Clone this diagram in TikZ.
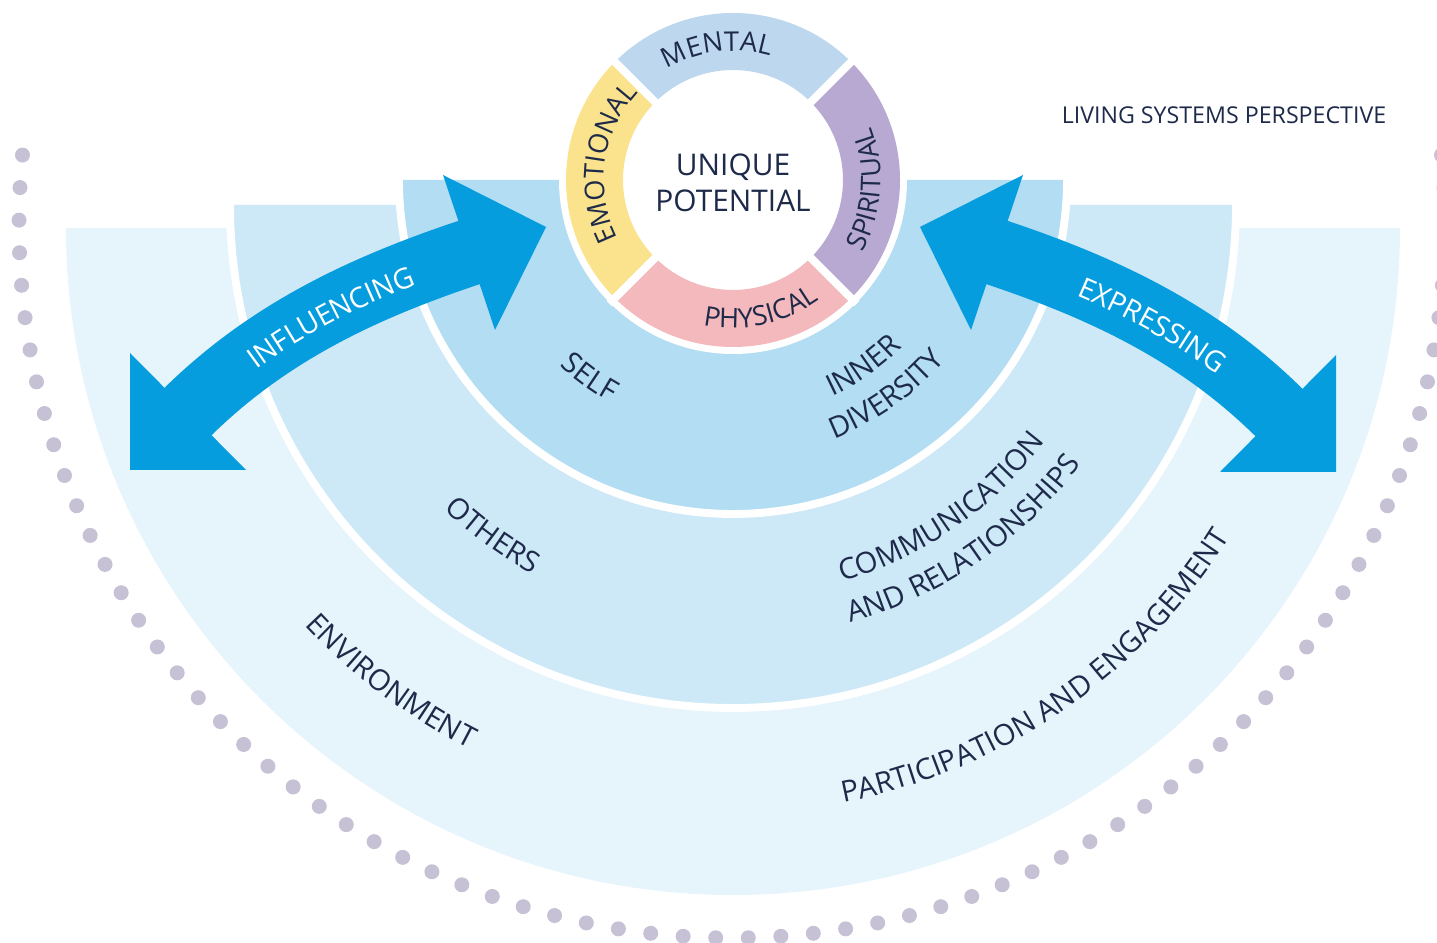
\documentclass[tikz,border=0pt]{standalone}
\usepackage{fontspec}
\setmainfont{Open Sans}
\usetikzlibrary{decorations.text}

\definecolor{outerband}{HTML}{E6F4FC}
\definecolor{midband}{HTML}{CDE9F7}
\definecolor{innerband}{HTML}{B2DDF3}
\definecolor{arrowblue}{HTML}{059DDE}
\definecolor{navy}{HTML}{1E2A4A}
\definecolor{dotgrey}{HTML}{C6C1D5}
\definecolor{mentalc}{HTML}{BDD7EE}
\definecolor{spiritc}{HTML}{B8A9D3}
\definecolor{emotec}{HTML}{FBE38D}
\definecolor{physc}{HTML}{F4B9BC}

\newcommand\bandfont{\fontsize{16.6}{16.6}\selectfont\color{navy}}
\newcommand\ringfont{\fontsize{15.5}{15.5}\selectfont\color{navy}}
\newcommand\arrowfont{\fontsize{16.2}{16.2}\selectfont\color{white}}

\tikzset{
  bandline/.style={draw=white, line width=4.5pt},
  shaft/.style={draw=arrowblue, line width=38pt},
  head/.style={fill=arrowblue},
  gap/.style={draw=white, line width=4.5pt},
  dot/.style={fill=dotgrey},
  curvedlabel/.style={decorate, decoration={text along path, text align=center, text={#1}}},
  arrowlabel/.style 2 args={decorate, decoration={text along path, text align={center, left indent=#1}, raise=-7pt, text={#2}}},
}

\begin{document}
\begin{tikzpicture}[x=0.02cm, y=0.02cm]
  \useasboundingbox (0,0) rectangle (1437,943);
  \clip (0,0) rectangle (1437,943);

  %% bands
  \fill[outerband] (66,715) -- (1400,715) arc[start angle=0, end angle=-180, radius=667] -- cycle;
  \fill[midband] (233,738) -- (1233,738) arc[start angle=0, end angle=-180, radius=500] -- cycle;
  \draw[bandline] (1236,738) arc[start angle=0, end angle=-180, radius=503];
  \fill[innerband] (402,763) -- (1064,763) arc[start angle=0, end angle=-180, radius=331] -- cycle;
  \draw[bandline] (1067,763) arc[start angle=0, end angle=-180, radius=334];

  %% dots
  \foreach \k in {0,...,36}{
    \fill[dot] (732,718) ++(268.69-2.62*\k:713) circle[radius=7.5];
    \fill[dot] (732,718) ++(271.31+2.62*\k:713) circle[radius=7.5];
  }

  %% influencing arrow
  \coordinate (inA) at (184,527.5);
  \coordinate (inB) at (473,691.8);
  \draw[shaft] (inA) .. controls (266,609.5) and (361.7,655) .. (inB);
  \fill[head] (130,473) -- (130,590) -- (246,473) -- cycle;
  \fill[head] (546,716) -- (443,768) -- (495,613) -- cycle;
  \path[arrowlabel={12pt}{|\arrowfont|INFLUENCING}] (inA) .. controls (266,609.5) and (361.7,655) .. (inB);

  %% expressing arrow
  \coordinate (exA) at (993,691.8);
  \coordinate (exB) at (1282,527.5);
  \draw[shaft] (exA) .. controls (1104.3,655) and (1200,609.5) .. (exB);
  \fill[head] (920,716) -- (1023,768) -- (971,613) -- cycle;
  \fill[head] (1336,471) -- (1336,588) -- (1220,471) -- cycle;
  \path[arrowlabel={10pt}{|\arrowfont|EXPRESSING}] (exA) .. controls (1104.3,655) and (1200,609.5) .. (exB);

  %% ring
  \coordinate (core) at (733,763);
  \fill[white] (core) circle[radius=174];
  \fill[mentalc] ([shift={(45:167)}]core) arc[start angle=45, end angle=135, radius=167]
     -- ([shift={(135:110)}]core) arc[start angle=135, end angle=45, radius=110] -- cycle;
  \fill[emotec] ([shift={(135:167)}]core) arc[start angle=135, end angle=225, radius=167]
     -- ([shift={(225:110)}]core) arc[start angle=225, end angle=135, radius=110] -- cycle;
  \fill[physc] ([shift={(225:167)}]core) arc[start angle=225, end angle=315, radius=167]
     -- ([shift={(315:110)}]core) arc[start angle=315, end angle=225, radius=110] -- cycle;
  \fill[spiritc] ([shift={(-45:167)}]core) arc[start angle=-45, end angle=45, radius=167]
     -- ([shift={(45:110)}]core) arc[start angle=45, end angle=-45, radius=110] -- cycle;
  \foreach \a in {45,135,225,315}
    \draw[gap] ([shift={(\a:100)}]core) -- ([shift={(\a:175)}]core);

  \node[align=center, font=\fontsize{17}{20.5}\selectfont, text=navy] (potential) at (733,760) {UNIQUE\\POTENTIAL};

  %% ring labels
  \path[curvedlabel={|\ringfont|MENTAL}] ([shift={(137:129)}]core) arc[start angle=137, end angle=57, radius=129];
  \path[curvedlabel={|\ringfont|EMOTIONAL}] ([shift={(215:129)}]core) arc[start angle=215, end angle=129, radius=129];
  \path[curvedlabel={|\ringfont|SPIRITUAL}] ([shift={(-46:148)}]core) arc[start angle=-46, end angle=38, radius=148];
  \path[curvedlabel={|\ringfont|PHYSICAL}] ([shift={(242:148)}]core) arc[start angle=242, end angle=322, radius=148];

  %% band labels
  \path[curvedlabel={|\bandfont|SELF}] ([shift={(214:254)}]core) arc[start angle=214, end angle=254, radius=254];
  \path[curvedlabel={|\bandfont|INNER}] ([shift={(-80:238)}]core) arc[start angle=-80, end angle=-30, radius=238];
  \path[curvedlabel={|\bandfont|DIVERSITY}] ([shift={(-80:278)}]core) arc[start angle=-80, end angle=-29, radius=278];
  \path[curvedlabel={|\bandfont|OTHERS}] ([shift={(214:420)}]733,738) arc[start angle=214, end angle=254, radius=420];
  \path[curvedlabel={|\bandfont|COMMUNICATION}] ([shift={(-81:392)}]733,738) arc[start angle=-81, end angle=-30, radius=392];
  \path[curvedlabel={|\bandfont|AND RELATIONSHIPS}] ([shift={(-81:434)}]733,738) arc[start angle=-81, end angle=-30, radius=434];
  \path[curvedlabel={|\bandfont|ENVIRONMENT}] ([shift={(213:584)}]733,715) arc[start angle=213, end angle=253, radius=584];
  \path[curvedlabel={|\bandfont|PARTICIPATION AND ENGAGEMENT}] ([shift={(-86:585)}]733,715) arc[start angle=-86, end angle=-25, radius=585];

  \node[font=\fontsize{13.2}{14}\selectfont, text=navy] (perspective) at (1224,828) {LIVING SYSTEMS PERSPECTIVE};
\end{tikzpicture}
\end{document}
